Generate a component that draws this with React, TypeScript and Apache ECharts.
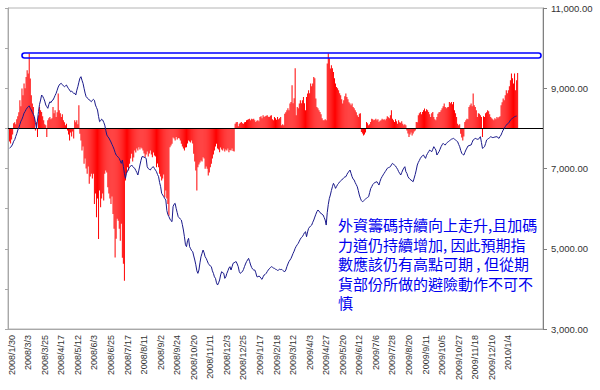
import React, { useEffect, useRef } from "react";
import * as echarts from "echarts";

const tickLabels = [
  "2008/1/30", "2008/3/3", "2008/3/25", "2008/4/17", "2008/5/12", "2008/6/3", "2008/6/25", "2008/7/17",
  "2008/8/11", "2008/9/2", "2008/9/24", "2008/10/20", "2008/11/11", "2008/12/3", "2008/12/25", "2009/1/17",
  "2009/2/18", "2009/3/12", "2009/4/3", "2009/4/27", "2009/5/20", "2009/6/12", "2009/7/6", "2009/7/28",
  "2009/8/20", "2009/9/11", "2009/10/5", "2009/10/27", "2009/11/18", "2009/12/10", "2010/1/4",
];

const TOTAL_CATEGORIES = 517;
const DATA_START = 1;
const LABEL_START = 3;
const LABEL_STEP = 16;

// Index (right axis)
const indexValues = [
  7503, 7530, 7560, 7610, 7680, 7720, 7800, 7870, 7959, 8020,
  8100, 8180, 8230, 8300, 8380, 8420, 8470, 8510, 8541, 8560,
  8500, 8458, 8400, 8350, 8291, 8150, 8000, 8208, 8420, 8600,
  8707, 8831, 8800, 8748, 8680, 8582, 8540, 8500, 8600, 8665,
  8640, 8690, 8707, 8760, 8820, 8873, 8950, 9030, 9080, 9110,
  9122, 9090, 9060, 9039, 9060, 9080, 9030, 8990, 8956, 8914,
  8930, 8900, 8870, 8873, 8831, 8950, 9039, 9150, 9250, 9288,
  9200, 9122, 9000, 8880, 8790, 8760, 8740, 8707, 8690, 8665,
  8700, 8723, 8700, 8582, 8520, 8458, 8300, 8167, 8190, 8230,
  8208, 8150, 8083, 7950, 7835, 7790, 7760, 7710, 7660, 7600,
  7544, 7480, 7400, 7336, 7310, 7280, 7253, 7190, 7128, 7211,
  7050, 6880, 6754, 6879, 6940, 6990, 7030, 7060, 7087, 7050,
  7020, 7004, 6950, 6900, 6838, 6960, 7087, 7200, 7295, 7295,
  7280, 7270, 7253, 7045, 7000, 6980, 6962, 7000, 7030, 7045,
  7000, 6960, 6920, 6850, 6796, 6650, 6547, 6381, 6340, 6298,
  6250, 6215, 5950, 5850, 5799, 5740, 5700, 5675, 6049, 6110,
  6132, 6007, 5900, 5799, 5770, 5740, 5716, 5600, 5467, 5300,
  5100, 5052, 5200, 5259, 5052, 5000, 4950, 4927, 4820, 4719,
  4600, 4450, 4387, 4470, 4650, 4800, 4885, 4968, 4900, 4800,
  4761, 4700, 4636, 4600, 4570, 4553, 4450, 4387, 4300, 4262,
  4150, 4096, 4150, 4221, 4350, 4429, 4400, 4387, 4262, 4300,
  4387, 4450, 4520, 4553, 4470, 4550, 4636, 4650, 4670, 4678,
  4620, 4553, 4430, 4387, 4410, 4429, 4480, 4553, 4620, 4678,
  4720, 4761, 4680, 4595, 4530, 4490, 4470, 4470, 4400, 4304,
  4300, 4320, 4304, 4260, 4238, 4300, 4346, 4360, 4387, 4430,
  4470, 4500, 4530, 4553, 4540, 4520, 4511, 4490, 4480, 4460,
  4470, 4490, 4480, 4486, 4460, 4440, 4429, 4470, 4553, 4620,
  4680, 4719, 4760, 4820, 4885, 4940, 5010, 5060, 5100, 5135,
  5190, 5240, 5280, 5301, 5350, 5400, 5425, 5301, 5420, 5508,
  5540, 5570, 5591, 5660, 5716, 5790, 5860, 5924, 5966, 5940,
  5900, 5882, 5860, 5841, 5780, 5716, 5591, 5900, 6100, 6250,
  6340, 6450, 6547, 6630, 6580, 6505, 6550, 6600, 6630, 6670,
  6690, 6713, 6740, 6770, 6790, 6796, 6850, 6900, 6921, 6962,
  6880, 6796, 6740, 6713, 6650, 6600, 6547, 6450, 6340, 6260,
  6200, 6173, 6190, 6215, 6240, 6260, 6280, 6298, 6400, 6500,
  6547, 6600, 6630, 6650, 6660, 6671, 6630, 6588, 6680, 6750,
  6796, 6840, 6880, 6921, 6960, 7004, 7020, 7030, 7045, 7090,
  7128, 7110, 7080, 7062, 7020, 6980, 6921, 6880, 6838, 6900,
  6962, 7010, 7045, 6921, 6879, 6796, 6760, 6730, 6713, 6690,
  6671, 6760, 6850, 6960, 7087, 7150, 7200, 7253, 7290, 7320,
  7336, 7290, 7253, 7330, 7378, 7420, 7461, 7440, 7419, 7480,
  7544, 7500, 7461, 7336, 7380, 7419, 7480, 7544, 7590, 7627,
  7600, 7585, 7620, 7650, 7668, 7690, 7710, 7730, 7740, 7751,
  7730, 7710, 7690, 7668, 7600, 7544, 7450, 7378, 7350, 7336,
  7400, 7461, 7510, 7560, 7570, 7580, 7585, 7650, 7710, 7730,
  7751, 7740, 7730, 7727, 7760, 7793, 7650, 7502, 7520, 7544,
  7620, 7710, 7730, 7751, 7770, 7793, 7780, 7770, 7776, 7785,
  7790, 7793, 7770, 7751, 7800, 7835, 7900, 7959, 8000, 8042,
  8080, 8110, 8125, 8160, 8208, 8230, 8250, 8270, 8291, 8300,
  8308,
];

// Foreign net position (left axis, hidden scale)
const foreignNet = [
  -130, -150, -110, -60, 50, 60, 40, 90, 120, 160,
  280, 220, 397, 330, 447, 400, 513, 580, 547, 747,
  497, 330, 247, 213, 113, -20, 60, -87, 130, 213,
  180, 163, 120, 80, 40, 30, -87, 80, 100, 113,
  90, 100, 213, 150, 180, 113, 160, 347, 180, 150,
  113, 140, 80, 60, 30, 45, -20, -60, -120, -40,
  -80, -30, -100, 80, 60, 80, 40, 230, -53, -120,
  -220, -180, -353, -300, -400, -453, -380, -553, -480, -453,
  -500, -453, -753, -650, -887, -700, -1103, -620, -787, -700,
  -650, -720, -453, -420, -440, -587, -650, -700, -753, -680,
  -853, -1000, -1287, -1100, -900, -920, -1000, -1120, -950, -1290,
  -1350, -1520, -520, -450, -387, -420, -353, -300, -253, -330,
  -290, -220, -240, -200, -220, -187, -210, -190, -200, -220,
  -250, -287, -260, -230, -280, -250, -220, -260, -287, -240,
  -270, -280, -387, -350, -387, -453, -480, -520, -500, -460,
  -687, -620, -700, -753, -870, -187, -170, -153, -90, -100,
  -120, -87, -110, -95, -100, -120, -153, -180, -200, -220,
  -190, -187, -150, -120, -130, -140, -120, -150, -253, -330,
  -420, -620, -387, -360, -340, -320, -330, -287, -300, -403,
  -380, -403, -470, -440, -387, -353, -300, -260, -220, -180,
  -153, -200, -210, -237, -190, -210, -220, -200, -230, -210,
  -220, -200, -237, -215, -220, -200, -225, -230, 47, 60,
  63, 20, 47, 55, 63, 50, 47, 60, 63, 80,
  85, 90, 97, 80, 95, 90, 97, 80, 63, 75,
  80, 70, 113, 120, 100, 130, 113, 120, 125, 130,
  115, 113, 125, 130, 90, 80, 113, 100, 85, 113,
  90, 100, 113, 30, 40, 30, 147, 160, 180, 200,
  180, 247, 263, 430, 250, 300, 600, 130, 213, 200,
  247, 280, 250, 280, 313, 250, 180, 313, 347, 380,
  350, 447, 420, 447, 513, 500, 297, 213, 200, 180,
  163, 140, 100, 80, 80, 90, 80, 647, 747, 700,
  597, 630, 600, 563, 500, 447, 413, 400, 380, 350,
  330, 290, 247, 280, 320, 347, 313, 290, 260, 247,
  230, 247, 213, 200, 180, 160, 130, 113, 147, 150,
  -37, -50, -70, -60, -40, 63, 50, 30, 40, 63,
  97, 90, 80, 85, 97, 80, 90, 63, 75, 80,
  97, 85, 90, 80, 97, 120, 110, 100, 130, 180,
  97, 80, 63, 90, 70, 47, 80, 60, 55, 70,
  47, 30, 40, 30, -20, -50, -87, -60, -40, -70,
  -50, -30, -20, 63, 60, 130, 150, 163, 140, 163,
  180, 197, 170, 190, 180, 163, 140, 113, 150, 163,
  113, 90, 80, 113, 147, 160, 163, 180, 200, 220,
  247, 213, 200, 210, 213, 263, 250, 263, 240, 263,
  180, 150, 113, 47, 30, 40, -53, -90, -120, -80,
  63, 80, 97, 90, 213, 230, 247, 220, 347, 230,
  213, 180, 113, 150, 147, 130, 113, -87, 120, 113,
  150, 160, 180, 170, 140, 113, 100, 90, 80, 100,
  90, 113, 100, 113, 120, 230, 260, 297, 280, 330,
  380, 350, 380, 420, 480, 547, 500, 447, 547, 380,
  480, 553,
];

const annotationLines = [
  "外資籌碼持續向上走升,且加碼",
  "力道仍持續增加, 因此預期指",
  "數應該仍有高點可期 , 但從期",
  "貨部份所做的避險動作不可不",
  "慎",
];

const categories = Array.from({ length: TOTAL_CATEGORIES }, (_, i) => {
  const k = (i - LABEL_START) / LABEL_STEP;
  return Number.isInteger(k) && k >= 0 && k < tickLabels.length ? tickLabels[k] : "d" + i;
});

const pad = (arr: number[]) => [...Array(DATA_START).fill(null), ...arr];

export default function App() {
  const ref = useRef<HTMLDivElement>(null);
  useEffect(() => {
    document.body.style.margin = "0";
    const chart = echarts.init(ref.current!, null, { renderer: "svg" });
    chart.setOption({
      animation: false,
      backgroundColor: "#ffffff",
      grid: {
        left: 8,
        top: 8,
        right: 57,
        bottom: 61,
        show: true,
        borderColor: "#b4b4b4",
        borderWidth: 1,
        backgroundColor: "#ffffff",
      },
      xAxis: {
        type: "category",
        data: categories,
        boundaryGap: true,
        axisLine: { show: true, onZero: false, lineStyle: { color: "#a8a8a8" } },
        axisTick: { show: false },
        axisLabel: {
          rotate: 90,
          margin: 6,
          hideOverlap: false,
          interval: (_i: number, name: string) => tickLabels.includes(name),
          formatter: (name: string) => (tickLabels.includes(name) ? name : ""),
          color: "#333333",
          fontSize: 9,
          fontFamily: "Liberation Sans, Arial, sans-serif",
        },
        splitLine: { show: false },
      },
      yAxis: [
        {
          type: "value",
          position: "left",
          min: -2000,
          max: 1200,
          interval: 400,
          axisLine: { show: true, lineStyle: { color: "#a8a8a8" } },
          axisTick: { show: true, length: 3, lineStyle: { color: "#a8a8a8" } },
          axisLabel: { show: false },
          splitLine: { show: false },
        },
        {
          type: "value",
          position: "right",
          min: 3000,
          max: 11000,
          interval: 2000,
          axisLine: { show: true, lineStyle: { color: "#808080" } },
          axisTick: { show: true, length: 4, lineStyle: { color: "#808080" } },
          axisLabel: {
            margin: 8,
            color: "#333333",
            fontSize: 9.5,
            fontFamily: "Liberation Sans, Arial, sans-serif",
            formatter: (v: number) => v.toLocaleString("en-US", { minimumFractionDigits: 2, maximumFractionDigits: 2 }),
          },
          splitLine: { show: false },
        },
      ],
      series: [
        {
          type: "bar",
          yAxisIndex: 0,
          data: pad(foreignNet),
          large: false,
          barWidth: "60%",
          itemStyle: { color: "#ff0000" },
          markLine: {
            silent: true,
            symbol: "none",
            label: { show: false },
            lineStyle: { color: "#000000", width: 1, type: "solid" },
            data: [{ yAxis: 0 }],
          },
        },
        {
          type: "line",
          yAxisIndex: 1,
          data: pad(indexValues),
          showSymbol: false,
          symbol: "none",
          lineStyle: { color: "#1a1a8a", width: 1 },
          z: 5,
        },
      ],
      graphic: [
        {
          type: "rect",
          z: 100,
          shape: { x: 22, y: 53, width: 519, height: 5, r: 2.5 },
          style: { fill: "rgba(0,0,0,0)", stroke: "#0000ff", lineWidth: 1.6 },
        },
        {
          type: "text",
          z: 100,
          left: 338,
          top: 215,
          style: {
            text: annotationLines.join("\n"),
            fill: "#0000ee",
            font: '15px "Noto Sans CJK TC", sans-serif',
            lineHeight: 19.5,
          },
        },
      ],
    });
    return () => chart.dispose();
  }, []);
  return <div ref={ref} style={{ width: 600, height: 390 }} />;
}
